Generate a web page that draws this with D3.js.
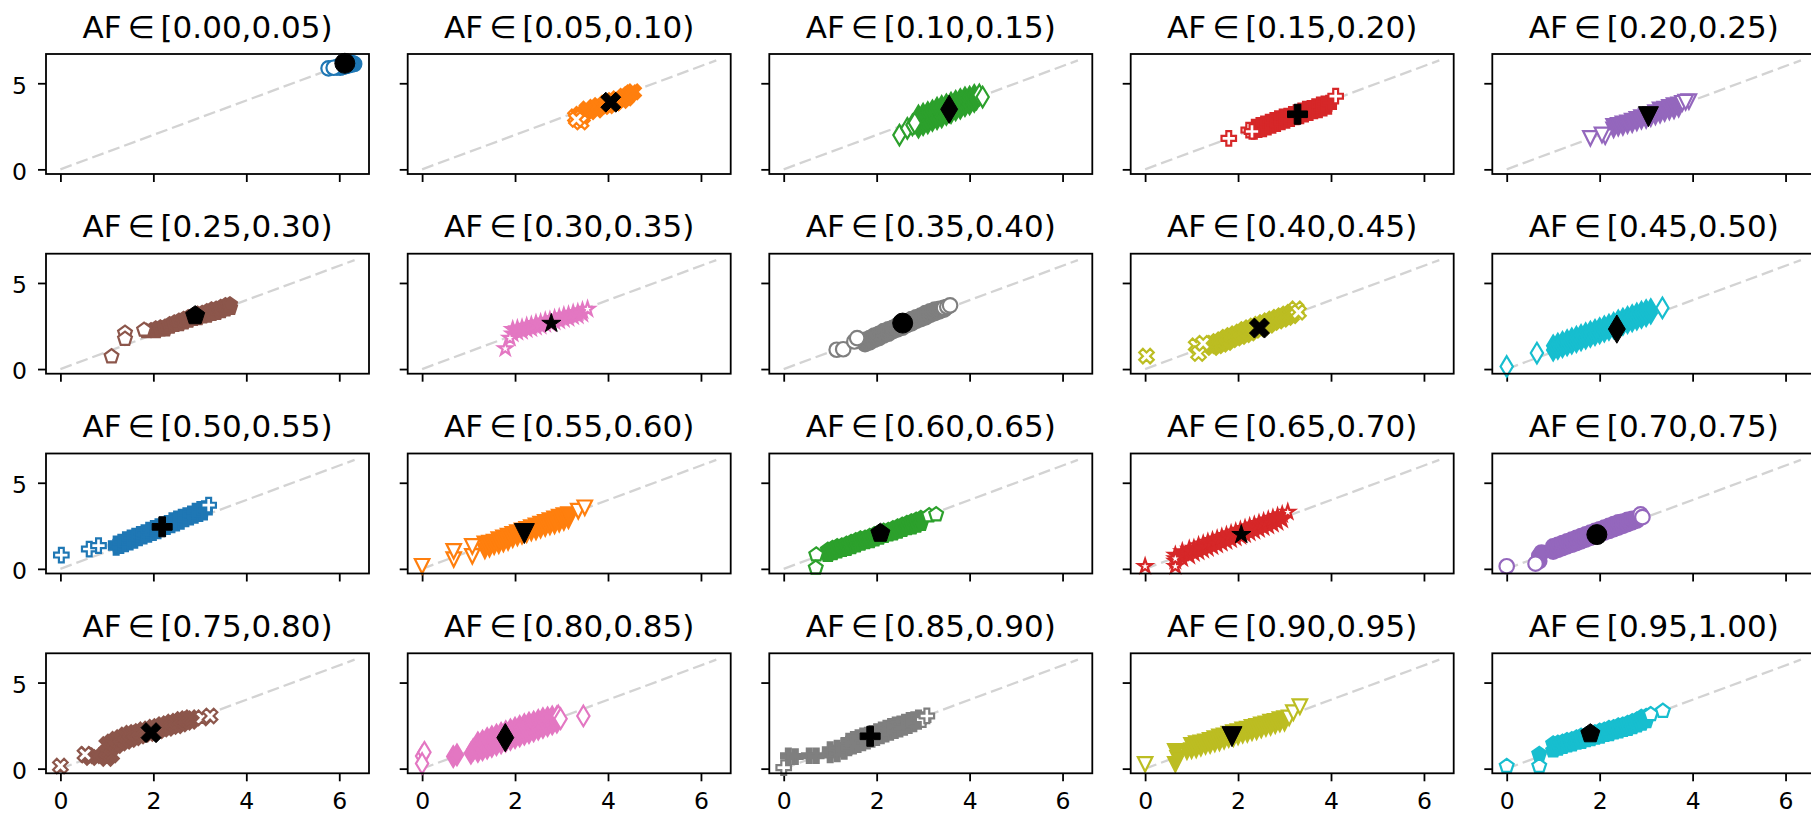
<!DOCTYPE html>
<html>
<head>
<meta charset="utf-8">
<script src="https://cdn.jsdelivr.net/npm/d3@7"></script>
<style>
body { margin: 0; background: #fff; }
text { font-family: "DejaVu Sans", sans-serif; fill: #000; }
</style>
</head>
<body>
<div id="chart"></div>
<script>

// ---- data ----
var panelTitles = ["[0.00,0.05)","[0.05,0.10)","[0.10,0.15)","[0.15,0.20)","[0.20,0.25)",
  "[0.25,0.30)","[0.30,0.35)","[0.35,0.40)","[0.40,0.45)","[0.45,0.50)",
  "[0.50,0.55)","[0.55,0.60)","[0.60,0.65)","[0.65,0.70)","[0.70,0.75)",
  "[0.75,0.80)","[0.80,0.85)","[0.85,0.90)","[0.90,0.95)","[0.95,1.00)"];
var xTickValues = [0, 2, 4, 6];
var yTickValues = [0, 5];
var diagEnd = 6.33;

var meanPoints = [[6.12,6.16],[4.06,3.9],[3.56,3.49],[3.28,3.2],[3.05,3.06],
  [2.9,3.1],[2.78,2.65],[2.56,2.67],[2.46,2.38],[2.37,2.32],
  [2.19,2.44],[2.2,2.05],[2.08,2.07],[2.07,1.99],[1.94,1.99],
  [1.95,2.09],[1.79,1.8],[1.86,1.88],[1.87,1.86],[1.8,2.03]];

var hollowPoints = [
  [[5.77,5.87],[5.88,5.9]],
  [[3.3,3.05],[3.42,2.75],[3.32,2.9]],
  [[2.49,1.99],[2.66,2.38],[2.77,2.58],[2.82,2.7],[4.21,4.32],[4.28,4.2]],
  [[1.8,1.8],[2.23,2.28],[2.3,2.2],[4.1,4.25]],
  [[1.8,1.8],[2.12,1.9],[2.05,2.0],[3.78,3.84],[3.92,3.94],[3.85,3.9]],
  [[1.1,0.73],[1.39,2.1],[1.39,1.75],[1.8,2.28]],
  [[1.79,1.19],[1.89,1.8],[3.56,3.48]],
  [[1.14,1.12],[1.28,1.15],[1.52,1.6],[1.58,1.8],[3.45,3.55],[3.52,3.62],[3.58,3.7]],
  [[0.03,0.75],[1.1,1.35],[1.15,0.9],[1.25,1.5],[3.25,3.5],[3.3,3.3]],
  [[0.0,0.15],[0.65,0.93],[3.35,3.55]],
  [[0.02,0.8],[0.62,1.15],[0.82,1.35],[3.19,3.7]],
  [[0.0,0.15],[0.68,0.54],[0.68,1.02],[1.08,0.73],[1.08,1.3],[3.36,3.35],[3.5,3.55]],
  [[0.7,0.83],[0.69,0.06],[3.13,3.1],[3.28,3.16]],
  [[0.0,0.15],[0.65,0.15],[0.65,0.6],[3.07,3.3]],
  [[0.0,0.15],[0.62,0.3],[2.88,3.16],[2.92,3.0]],
  [[0.0,0.15],[0.53,0.83],[3.05,2.95],[3.22,3.06]],
  [[0.0,0.73],[0.05,0.95],[0.0,0.3],[2.93,3.06],[2.98,2.9],[3.47,3.06]],
  [[0.0,0.06],[3.0,2.85],[3.08,3.06]],
  [[0.0,0.25],[3.1,2.95],[3.19,3.25],[3.33,3.6]],
  [[0.0,0.15],[0.7,0.15],[3.1,3.16],[3.36,3.35]]
];

var filledPoints = [
  [[5.95,5.92],[5.99,5.98],[6.02,5.9],[6.05,6.02],[6.08,5.95],[6.11,6.08],[6.14,6.0],[6.17,6.1],[6.2,6.04],[6.23,6.14],[6.26,6.08],[6.29,6.16],[6.32,6.12],[6.15,6.18],[6.24,6.2]],
  [[3.45,3.05],[3.4,3.2],[3.5,3.3],[3.55,3.5],[3.6,3.35],[3.7,3.6],[3.75,3.45],[3.8,3.7],[3.9,3.65],[3.95,3.85],[4.0,3.7],[4.1,4.0],[4.15,3.85],[4.2,4.1],[4.3,4.0],[4.35,4.25],[4.4,4.15],[4.45,4.35],[4.5,4.45],[4.55,4.5]],
  [[2.9,2.45],[2.9,3.1],[3.0,2.6],[3.0,3.2],[3.1,2.7],[3.1,3.3],[3.2,2.85],[3.2,3.4],[3.3,2.95],[3.3,3.55],[3.4,3.05],[3.4,3.65],[3.5,3.2],[3.5,3.75],[3.6,3.3],[3.6,3.85],[3.7,3.45],[3.7,3.95],[3.8,3.55],[3.8,4.05],[3.9,3.7],[3.9,4.15],[4.0,3.8],[4.0,4.2],[4.1,3.95],[4.1,4.3],[4.15,4.1]],
  [[2.35,2.2],[2.35,2.45],[2.45,2.3],[2.45,2.55],[2.55,2.35],[2.55,2.65],[2.65,2.45],[2.65,2.75],[2.75,2.55],[2.75,2.85],[2.85,2.65],[2.85,2.95],[2.95,2.75],[2.95,3.05],[3.05,2.85],[3.05,3.1],[3.15,2.95],[3.15,3.2],[3.25,3.05],[3.25,3.3],[3.35,3.1],[3.35,3.4],[3.45,3.2],[3.45,3.5],[3.55,3.3],[3.55,3.55],[3.65,3.4],[3.65,3.65],[3.75,3.45],[3.75,3.75],[3.85,3.55],[3.85,3.8],[3.95,3.65],[3.95,3.85]],
  [[2.3,2.3],[2.3,2.5],[2.4,2.4],[2.4,2.55],[2.5,2.45],[2.5,2.65],[2.6,2.55],[2.6,2.7],[2.7,2.6],[2.7,2.8],[2.8,2.7],[2.8,2.9],[2.9,2.8],[2.9,3.0],[3.0,2.85],[3.0,3.1],[3.1,2.95],[3.1,3.2],[3.2,3.05],[3.2,3.3],[3.3,3.15],[3.3,3.45],[3.4,3.25],[3.4,3.5],[3.5,3.35],[3.5,3.6],[3.6,3.4],[3.6,3.7],[3.7,3.5],[3.7,3.75]],
  [[1.85,2.2],[1.95,2.25],[2.05,2.2],[2.05,2.35],[2.15,2.3],[2.15,2.4],[2.25,2.3],[2.25,2.45],[2.35,2.45],[2.35,2.6],[2.45,2.55],[2.45,2.7],[2.55,2.6],[2.55,2.8],[2.65,2.7],[2.65,2.9],[2.75,2.8],[2.75,3.0],[2.85,2.9],[2.85,3.1],[2.95,2.95],[2.95,3.2],[3.05,3.05],[3.05,3.25],[3.15,3.1],[3.15,3.35],[3.25,3.2],[3.25,3.45],[3.35,3.25],[3.35,3.5],[3.45,3.35],[3.45,3.6],[3.55,3.45],[3.55,3.7],[3.65,3.55],[3.65,3.75]],
  [[1.95,2.05],[1.95,2.3],[2.05,2.15],[2.05,2.35],[2.15,2.2],[2.15,2.4],[2.25,2.3],[2.25,2.5],[2.35,2.35],[2.35,2.55],[2.45,2.45],[2.45,2.65],[2.55,2.5],[2.55,2.7],[2.65,2.6],[2.65,2.8],[2.75,2.65],[2.75,2.85],[2.85,2.75],[2.85,2.95],[2.95,2.8],[2.95,3.0],[3.05,2.9],[3.05,3.1],[3.15,2.95],[3.15,3.15],[3.25,3.05],[3.25,3.25],[3.35,3.1],[3.35,3.3],[3.45,3.2],[3.45,3.4]],
  [[1.75,1.45],[1.75,1.7],[1.85,1.55],[1.85,1.8],[1.95,1.7],[1.95,1.95],[2.05,1.8],[2.05,2.05],[2.15,1.95],[2.15,2.2],[2.25,2.05],[2.25,2.3],[2.35,2.2],[2.35,2.4],[2.45,2.3],[2.45,2.55],[2.55,2.4],[2.55,2.65],[2.65,2.55],[2.65,2.75],[2.75,2.65],[2.75,2.9],[2.85,2.8],[2.85,3.0],[2.95,2.9],[2.95,3.1],[3.05,3.0],[3.05,3.25],[3.15,3.15],[3.15,3.35],[3.25,3.25],[3.25,3.45],[3.35,3.35],[3.35,3.5],[3.45,3.45],[3.45,3.55]],
  [[1.45,1.25],[1.45,1.5],[1.55,1.35],[1.55,1.6],[1.65,1.45],[1.65,1.7],[1.75,1.55],[1.75,1.85],[1.85,1.7],[1.85,1.95],[1.95,1.8],[1.95,2.05],[2.05,1.9],[2.05,2.15],[2.15,2.0],[2.15,2.3],[2.25,2.1],[2.25,2.4],[2.35,2.25],[2.35,2.5],[2.45,2.35],[2.45,2.6],[2.55,2.45],[2.55,2.7],[2.65,2.55],[2.65,2.8],[2.75,2.7],[2.75,2.9],[2.85,2.8],[2.85,3.0],[2.95,2.9],[2.95,3.1],[3.05,3.0],[3.05,3.2],[3.15,3.1],[3.15,3.3]],
  [[1.0,1.1],[1.0,1.35],[1.1,1.2],[1.1,1.45],[1.2,1.3],[1.2,1.55],[1.3,1.4],[1.3,1.65],[1.4,1.5],[1.4,1.75],[1.5,1.6],[1.5,1.85],[1.6,1.7],[1.6,1.95],[1.7,1.8],[1.7,2.05],[1.8,1.9],[1.8,2.15],[1.9,2.0],[1.9,2.25],[2.0,2.1],[2.0,2.35],[2.1,2.2],[2.1,2.45],[2.2,2.3],[2.2,2.55],[2.3,2.4],[2.3,2.65],[2.4,2.5],[2.4,2.8],[2.5,2.6],[2.5,2.9],[2.6,2.7],[2.6,3.0],[2.7,2.8],[2.7,3.1],[2.8,2.9],[2.8,3.2],[2.9,3.0],[2.9,3.3],[3.0,3.1],[3.0,3.4],[3.1,3.25],[3.1,3.45]],
  [[1.2,1.25],[1.2,1.45],[1.3,1.35],[1.3,1.55],[1.4,1.45],[1.4,1.7],[1.5,1.55],[1.5,1.8],[1.6,1.65],[1.6,1.9],[1.7,1.8],[1.7,2.0],[1.8,1.9],[1.8,2.1],[1.9,2.0],[1.9,2.25],[2.0,2.1],[2.0,2.35],[2.1,2.2],[2.1,2.45],[2.2,2.35],[2.2,2.55],[2.3,2.45],[2.3,2.65],[2.4,2.55],[2.4,2.8],[2.5,2.65],[2.5,2.9],[2.6,2.75],[2.6,3.0],[2.7,2.9],[2.7,3.1],[2.8,3.0],[2.8,3.2],[2.9,3.1],[2.9,3.35],[3.0,3.2],[3.0,3.45],[3.1,3.3],[3.1,3.5]],
  [[1.35,1.05],[1.35,1.45],[1.45,1.15],[1.45,1.5],[1.55,1.3],[1.55,1.55],[1.65,1.35],[1.65,1.7],[1.75,1.45],[1.75,1.8],[1.85,1.55],[1.85,1.9],[1.95,1.7],[1.95,2.0],[2.05,1.8],[2.05,2.1],[2.15,1.9],[2.15,2.2],[2.25,2.0],[2.25,2.3],[2.35,2.1],[2.35,2.4],[2.45,2.15],[2.45,2.5],[2.55,2.25],[2.55,2.6],[2.65,2.35],[2.65,2.7],[2.75,2.45],[2.75,2.8],[2.85,2.5],[2.85,2.9],[2.95,2.6],[2.95,3.0],[3.05,2.7],[3.05,3.1],[3.15,2.8],[3.15,3.15]],
  [[0.95,0.8],[0.95,1.1],[1.05,0.9],[1.05,1.2],[1.15,1.0],[1.15,1.3],[1.25,1.1],[1.25,1.35],[1.35,1.15],[1.35,1.45],[1.45,1.25],[1.45,1.55],[1.55,1.35],[1.55,1.65],[1.65,1.45],[1.65,1.75],[1.75,1.55],[1.75,1.8],[1.85,1.6],[1.85,1.9],[1.95,1.7],[1.95,2.0],[2.05,1.8],[2.05,2.1],[2.15,1.9],[2.15,2.2],[2.25,2.0],[2.25,2.25],[2.35,2.05],[2.35,2.35],[2.45,2.15],[2.45,2.45],[2.55,2.25],[2.55,2.55],[2.65,2.35],[2.65,2.65],[2.75,2.4],[2.75,2.75],[2.85,2.5],[2.85,2.85],[2.95,2.6],[2.95,2.95]],
  [[0.65,0.45],[0.65,0.8],[0.8,0.6],[0.8,1.0],[0.95,0.75],[0.95,1.15],[1.05,0.9],[1.05,1.2],[1.15,1.0],[1.15,1.35],[1.25,1.1],[1.25,1.45],[1.35,1.2],[1.35,1.55],[1.45,1.3],[1.45,1.65],[1.55,1.4],[1.55,1.75],[1.65,1.5],[1.65,1.85],[1.75,1.6],[1.75,1.95],[1.85,1.7],[1.85,2.05],[1.95,1.8],[1.95,2.15],[2.05,1.9],[2.05,2.25],[2.15,2.0],[2.15,2.35],[2.25,2.1],[2.25,2.45],[2.35,2.2],[2.35,2.55],[2.45,2.3],[2.45,2.65],[2.55,2.4],[2.55,2.75],[2.65,2.5],[2.65,2.85],[2.75,2.6],[2.75,2.95],[2.85,2.7],[2.85,3.05],[2.95,2.85],[2.95,3.15]],
  [[0.7,0.45],[0.7,0.75],[0.75,0.95],[1.0,1.0],[1.0,1.3],[1.1,1.1],[1.1,1.4],[1.2,1.2],[1.2,1.5],[1.3,1.3],[1.3,1.6],[1.4,1.4],[1.4,1.7],[1.5,1.5],[1.5,1.8],[1.6,1.6],[1.6,1.9],[1.7,1.7],[1.7,2.0],[1.8,1.8],[1.8,2.1],[1.9,1.9],[1.9,2.2],[2.0,2.0],[2.0,2.3],[2.1,2.1],[2.1,2.4],[2.2,2.2],[2.2,2.5],[2.3,2.3],[2.3,2.6],[2.4,2.4],[2.4,2.7],[2.5,2.5],[2.5,2.75],[2.6,2.6],[2.6,2.85],[2.7,2.7],[2.7,2.9],[2.8,2.8],[2.8,2.95]],
  [[0.55,0.8],[0.65,0.65],[0.75,0.75],[1.0,0.6],[1.0,1.0],[1.0,1.4],[1.1,0.8],[1.1,1.2],[1.1,1.55],[1.2,1.35],[1.2,1.7],[1.3,1.5],[1.3,1.8],[1.4,1.6],[1.4,1.95],[1.5,1.7],[1.5,2.05],[1.6,1.8],[1.6,2.1],[1.7,1.9],[1.7,2.15],[1.8,2.0],[1.8,2.25],[1.9,2.05],[1.9,2.3],[2.0,2.15],[2.0,2.4],[2.1,2.2],[2.1,2.45],[2.2,2.3],[2.2,2.55],[2.3,2.35],[2.3,2.6],[2.4,2.45],[2.4,2.7],[2.5,2.5],[2.5,2.75],[2.6,2.6],[2.6,2.85],[2.7,2.7],[2.7,2.9],[2.8,2.75],[2.8,2.95]],
  [[0.67,0.7],[0.75,0.8],[1.05,0.9],[1.1,1.1],[1.2,1.0],[1.2,1.5],[1.3,1.1],[1.3,1.6],[1.4,1.2],[1.4,1.75],[1.5,1.3],[1.5,1.85],[1.6,1.4],[1.6,1.95],[1.7,1.5],[1.7,2.05],[1.8,1.6],[1.8,2.15],[1.9,1.7],[1.9,2.25],[2.0,1.8],[2.0,2.35],[2.1,1.9],[2.1,2.45],[2.2,2.0],[2.2,2.55],[2.3,2.1],[2.3,2.65],[2.4,2.2],[2.4,2.7],[2.5,2.3],[2.5,2.8],[2.6,2.4],[2.6,2.9],[2.7,2.5],[2.7,2.95],[2.8,2.6],[2.8,3.0],[2.9,2.7],[2.9,3.0]],
  [[0.1,0.75],[0.25,0.7],[0.55,0.75],[0.7,0.75],[1.0,0.8],[1.0,1.1],[1.15,0.85],[1.15,1.2],[1.3,1.0],[1.3,1.35],[1.4,1.2],[1.4,1.6],[1.5,1.3],[1.5,1.7],[1.6,1.4],[1.6,1.8],[1.7,1.5],[1.7,1.9],[1.8,1.6],[1.8,1.95],[1.9,1.7],[1.9,2.05],[2.0,1.8],[2.0,2.15],[2.1,1.9],[2.1,2.25],[2.2,2.0],[2.2,2.35],[2.3,2.1],[2.3,2.45],[2.4,2.2],[2.4,2.55],[2.5,2.3],[2.5,2.6],[2.6,2.4],[2.6,2.7],[2.7,2.5],[2.7,2.8],[2.8,2.6],[2.8,2.85],[2.9,2.75],[2.9,2.95]],
  [[0.65,0.25],[0.65,1.0],[0.7,0.6],[0.9,1.0],[1.0,1.05],[1.0,1.35],[1.1,1.1],[1.1,1.45],[1.2,1.2],[1.2,1.5],[1.3,1.3],[1.3,1.55],[1.4,1.35],[1.4,1.65],[1.5,1.45],[1.5,1.75],[1.6,1.5],[1.6,1.85],[1.7,1.6],[1.7,1.9],[1.8,1.7],[1.8,2.0],[1.9,1.75],[1.9,2.1],[2.0,1.85],[2.0,2.15],[2.1,1.95],[2.1,2.25],[2.2,2.0],[2.2,2.3],[2.3,2.1],[2.3,2.4],[2.4,2.15],[2.4,2.45],[2.5,2.25],[2.5,2.55],[2.6,2.35],[2.6,2.6],[2.7,2.4],[2.7,2.7],[2.8,2.5],[2.8,2.75],[2.9,2.6],[2.9,2.85],[3.0,2.65],[3.0,2.9]],
  [[0.7,0.85],[1.0,1.05],[1.0,1.45],[1.1,1.15],[1.1,1.5],[1.2,1.25],[1.2,1.55],[1.3,1.35],[1.3,1.65],[1.4,1.4],[1.4,1.7],[1.5,1.5],[1.5,1.8],[1.6,1.55],[1.6,1.9],[1.7,1.65],[1.7,1.95],[1.8,1.7],[1.8,2.05],[1.9,1.8],[1.9,2.1],[2.0,1.85],[2.0,2.2],[2.1,1.95],[2.1,2.25],[2.2,2.0],[2.2,2.35],[2.3,2.1],[2.3,2.4],[2.4,2.15],[2.4,2.5],[2.5,2.25],[2.5,2.55],[2.6,2.3],[2.6,2.65],[2.7,2.4],[2.7,2.75],[2.8,2.5],[2.8,2.85],[2.9,2.6],[2.9,3.0],[3.0,2.75],[3.0,3.05]]
];

var colors = ["#1f77b4","#ff7f0e","#2ca02c","#d62728","#9467bd","#8c564b","#e377c2","#7f7f7f","#bcbd22","#17becf"];
var markerCycle = ["o","X","d","P","v","p","*"];

// ---- layout ----
var width = 1811, height = 815;
var panelW = 323, panelH = 120;
var colLeft = [46, 407.7, 769.3, 1130.7, 1492.3];
var rowTop = [54, 253.7, 453.5, 653.3];

var svg = d3.select("#chart")
  .append("svg")
    .attr("width", width)
    .attr("height", height);

var x = d3.scaleLinear().domain([-0.31, 6.64]).range([0, panelW]);
var y = d3.scaleLinear().domain([-0.27, 6.70]).range([panelH, 0]);

// matplotlib-like marker outlines, w = marker size in px
function markerPath(type, w) {
  var r = w / 2, pts;
  if (type === "o") {
    return d3.symbol().type(d3.symbolCircle).size(Math.PI * r * r)();
  }
  if (type === "X") {
    pts = [[-1,-2],[0,-1],[1,-2],[2,-1],[1,0],[2,1],[1,2],[0,1],[-1,2],[-2,1],[-1,0],[-2,-1]]
      .map(function(p) { return [p[0] * w / 4, p[1] * w / 4]; });
  } else if (type === "P") {
    pts = [[-1,-3],[1,-3],[1,-1],[3,-1],[3,1],[1,1],[1,3],[-1,3],[-1,1],[-3,1],[-3,-1],[-1,-1]]
      .map(function(p) { return [p[0] * w / 6, p[1] * w / 6]; });
  } else if (type === "d") {
    var h = w * 0.7071;
    pts = [[0,-h],[0.6 * h,0],[0,h],[-0.6 * h,0]];
  } else if (type === "v") {
    pts = [[0, r],[-r,-r],[r,-r]];
  } else if (type === "p") {
    pts = d3.range(5).map(function(i) {
      var a = Math.PI / 2 + i * 2 * Math.PI / 5;
      return [r * Math.cos(a), -r * Math.sin(a)];
    });
  } else {
    pts = d3.range(10).map(function(i) {
      var a = Math.PI / 2 + i * Math.PI / 5;
      var rr = (i % 2 === 0) ? r : r * 0.381966;
      return [rr * Math.cos(a), -rr * Math.sin(a)];
    });
  }
  return "M" + pts.map(function(p) { return p[0].toFixed(2) + "," + p[1].toFixed(2); }).join("L") + "Z";
}

panelTitles.forEach(function(t, i) {
  var row = Math.floor(i / 5), col = i % 5;
  var color = colors[i % 10];
  var mk = markerCycle[i % 7];

  var g = svg.append("g")
    .attr("transform", "translate(" + colLeft[col] + "," + rowTop[row] + ")");

  // title
  var title = g.append("text")
    .attr("x", panelW / 2)
    .attr("y", -16.5)
    .attr("text-anchor", "middle")
    .style("font-size", "31px");
  title.append("tspan").text("AF");
  title.append("tspan").attr("dx", 6).text("\u2208");
  title.append("tspan").attr("dx", 6).text(t);

  // axes
  var xa = g.append("g")
    .attr("transform", "translate(0," + panelH + ")")
    .call(d3.axisBottom(x).tickValues(xTickValues).tickSize(8).tickPadding(11)
      .tickFormat(row === 3 ? d3.format("d") : function() { return ""; }));
  var ya = g.append("g")
    .call(d3.axisLeft(y).tickValues(yTickValues).tickSize(8).tickPadding(11)
      .tickFormat(col === 0 ? d3.format("d") : function() { return ""; }));
  [xa, ya].forEach(function(a) {
    a.select(".domain").remove();
    a.selectAll(".tick line").attr("stroke", "#000").attr("stroke-width", 1.8);
    a.selectAll(".tick text").style("font-size", "23.5px").attr("font-family", "DejaVu Sans");
  });
  ya.selectAll(".tick text").attr("dy", "0.42em");

  var plot = g.append("g");

  // reference diagonal
  plot.append("line")
    .attr("x1", x(0)).attr("y1", y(0))
    .attr("x2", x(diagEnd)).attr("y2", y(diagEnd))
    .attr("stroke", "#d3d3d3")
    .attr("stroke-width", 2.3)
    .attr("stroke-dasharray", "12,5");

  var pathSmall = markerPath(mk, 14.5);
  var pathMean = markerPath(mk, 20);

  plot.selectAll(".filled")
    .data(filledPoints[i])
    .enter().append("path")
      .attr("d", pathSmall)
      .attr("transform", function(d) { return "translate(" + x(d[0]) + "," + y(d[1]) + ")"; })
      .attr("fill", color)
      .attr("stroke", color)
      .attr("stroke-width", 2.2);

  plot.selectAll(".hollow")
    .data(hollowPoints[i])
    .enter().append("path")
      .attr("d", pathSmall)
      .attr("transform", function(d) { return "translate(" + x(d[0]) + "," + y(d[1]) + ")"; })
      .attr("fill", "#fff")
      .attr("stroke", color)
      .attr("stroke-width", 2.2);

  plot.append("path")
    .datum(meanPoints[i])
    .attr("d", pathMean)
    .attr("transform", function(d) { return "translate(" + x(d[0]) + "," + y(d[1]) + ")"; })
    .attr("fill", "#000")
    .attr("stroke", "#000")
    .attr("stroke-width", 1);

  // frame
  g.append("rect")
    .attr("width", panelW)
    .attr("height", panelH)
    .attr("fill", "none")
    .attr("stroke", "#000")
    .attr("stroke-width", 1.8);
});

</script>
</body>
</html>
